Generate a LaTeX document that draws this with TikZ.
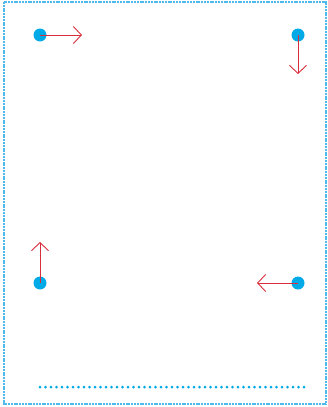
\documentclass[tikz,border=0pt]{standalone}
\usepackage{tikz}
\usetikzlibrary{positioning,arrows.meta}
\definecolor{dotblue}{RGB}{0,170,230}
\definecolor{frameblue}{RGB}{80,185,235}
\definecolor{arrowred}{RGB}{215,45,60}
\tikzset{
  corner/.style={circle, fill=dotblue, inner sep=0pt, minimum size=13pt},
  move/.style={arrowred, line width=0.9pt, -{Straight Barb[length=8pt,width=17pt]}}
}

\begin{document}
\begin{tikzpicture}[x=1pt,y=-1pt]
        \useasboundingbox (0,0) rectangle (328,407);
        % Frame
        \draw[frameblue, line width=2.2pt, dash pattern=on 2pt off 0.8pt] (4,2) rectangle (326,404);
        % Corner dots
        \node[corner] (tl) at (40,35) {};
        \node[corner] (tr) at (298,35) {};
        \node[corner] (bl) at (40,283) {};
        \node[corner] (br) at (298,283) {};
        % Arrow ends
        \coordinate (tlend) at (82,35);
        \coordinate (trend) at (298,74);
        \coordinate (blend) at (40,242);
        \coordinate (brend) at (257,283);
        \draw[move] (tl.center) -- (tlend);
        \draw[move] (tr.center) -- (trend);
        \draw[move] (bl.center) -- (blend);
        \draw[move] (br.center) -- (brend);
        % Dotted base line
        \coordinate (lineleft) at (40,387);
        \coordinate (lineright) at (305,387);
        \draw[dotblue, line width=3pt, line cap=round, dash pattern=on 0pt off 5.5pt] (lineleft) -- (lineright);
    \end{tikzpicture}
\end{document}
